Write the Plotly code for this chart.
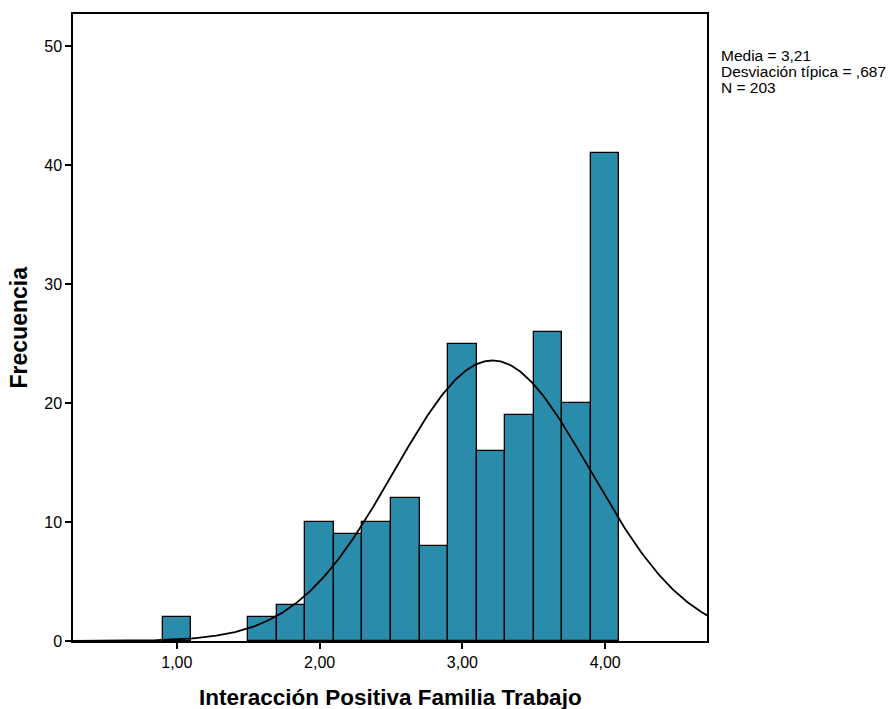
import numpy as np
import plotly.graph_objects as go

# Histogram bins (left edge, width 0.2) and frequencies
bin_left = [0.9, 1.5, 1.7, 1.9, 2.1, 2.3, 2.5, 2.7, 2.9, 3.1, 3.3, 3.5, 3.7, 3.9]
counts = [2, 2, 3, 10, 9, 10, 12, 8, 25, 16, 19, 26, 20, 41]
bin_width = 0.2

# Summary statistics shown in the side note
mean = 3.21
std = 0.687
n = 203

x_range = [0.273, 4.713]
y_range = [0, 52.7]
x_ticks = [1, 2, 3, 4]
x_ticktext = ["1,00", "2,00", "3,00", "4,00"]
y_ticks = [0, 10, 20, 30, 40, 50]

centers = [b + bin_width / 2 for b in bin_left]

# Fitted normal curve scaled to frequency
xs = np.linspace(x_range[0], x_range[1], 400)
ys = n * bin_width / (std * np.sqrt(2 * np.pi)) * np.exp(-0.5 * ((xs - mean) / std) ** 2)

W, H = 896, 709
L, R, T, B = 73, 189, 14, 68

fig = go.Figure()
fig.add_trace(go.Bar(
    x=centers, y=counts, width=bin_width,
    marker=dict(color="#2a8cab", line=dict(color="#000000", width=1.3)),
    hoverinfo="x+y", showlegend=False,
))
fig.add_trace(go.Scatter(
    x=xs, y=ys, mode="lines",
    line=dict(color="#000000", width=1.8),
    hoverinfo="skip", showlegend=False,
))

font_family = "Liberation Sans, Arial, sans-serif"

note_lines = [
    "Media = " + f"{mean:.2f}".replace(".", ","),
    "Desviación típica = " + f"{std:.3f}".replace("0.", ","),
    f"N = {n}",
]
plot_h = H - T - B
annotations = []
for i, line in enumerate(note_lines):
    top_px = 46 + i * 16
    annotations.append(dict(
        xref="paper", yref="paper", x=(720 - L) / (W - L - R),
        y=1 - (top_px - T) / plot_h,
        xanchor="left", yanchor="top", align="left", showarrow=False,
        text=line, font=dict(size=15.5), borderpad=0,
    ))

# Axis titles placed as annotations for exact positioning
annotations.append(dict(
    xref="paper", yref="paper", x=(390 - L) / (W - L - R), y=-(697 - T - plot_h) / plot_h,
    xanchor="center", yanchor="middle", showarrow=False,
    text="<b>Interacción Positiva Familia Trabajo</b>", font=dict(size=22.5),
))
annotations.append(dict(
    xref="paper", yref="paper", x=-(L - 18) / (W - L - R), y=0.5,
    xanchor="center", yanchor="middle", showarrow=False, textangle=-90,
    text="<b>Frecuencia</b>", font=dict(size=23),
))

fig.update_layout(
    width=W, height=H,
    margin=dict(l=L, r=R, t=T, b=B, autoexpand=False),
    paper_bgcolor="white", plot_bgcolor="white",
    font=dict(family=font_family, color="#000000", size=16),
    bargap=0,
    xaxis=dict(
        range=x_range, tickvals=x_ticks, ticktext=x_ticktext,
        ticks="outside", ticklen=6, tickwidth=1.5, tickcolor="#000",
        showline=True, linecolor="#000", linewidth=1.5, mirror=True,
        showgrid=False, zeroline=False, automargin=False,
        tickfont=dict(size=16),
    ),
    yaxis=dict(
        range=y_range, tickvals=y_ticks,
        ticks="outside", ticklen=6, tickwidth=1.5, tickcolor="#000",
        showline=True, linecolor="#000", linewidth=1.5, mirror=True,
        showgrid=False, zeroline=False, automargin=False,
        tickfont=dict(size=16),
    ),
    annotations=annotations,
)

fig.write_html("out.html")
